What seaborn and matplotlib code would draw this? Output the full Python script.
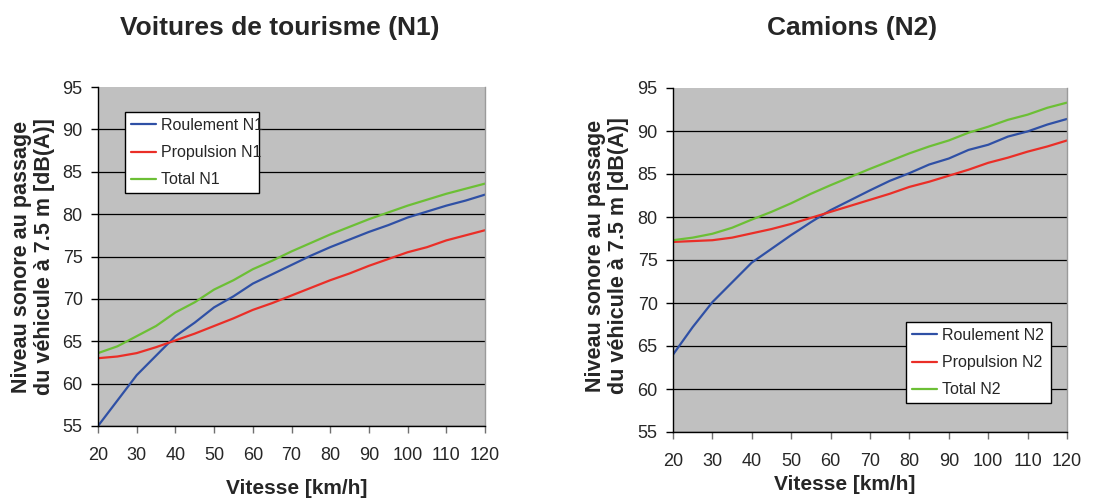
import matplotlib
matplotlib.use("Agg")
import matplotlib.pyplot as plt
import seaborn as sns
import pandas as pd

speed = [20, 25, 30, 35, 40, 45, 50, 55, 60, 65, 70, 75, 80, 85, 90, 95, 100, 105, 110, 115, 120]

roul_n1 = [55.0, 58.0, 61.0, 63.3, 65.6, 67.2, 69.0, 70.3, 71.8, 72.9, 74.0, 75.1, 76.1, 77.0, 77.9, 78.7, 79.6, 80.3, 81.0, 81.6, 82.3]
prop_n1 = [63.0, 63.2, 63.6, 64.3, 65.1, 65.9, 66.8, 67.7, 68.7, 69.5, 70.4, 71.3, 72.2, 73.0, 73.9, 74.7, 75.5, 76.1, 76.9, 77.5, 78.1]
tot_n1 = [63.6, 64.4, 65.6, 66.8, 68.4, 69.6, 71.1, 72.2, 73.5, 74.5, 75.6, 76.6, 77.6, 78.5, 79.4, 80.2, 81.0, 81.7, 82.4, 83.0, 83.6]

roul_n2 = [64.0, 67.2, 70.1, 72.4, 74.7, 76.3, 77.9, 79.4, 80.8, 81.95, 83.1, 84.2, 85.1, 86.1, 86.8, 87.8, 88.4, 89.35, 89.95, 90.75, 91.4]
prop_n2 = [77.1, 77.2, 77.3, 77.6, 78.1, 78.6, 79.2, 79.9, 80.6, 81.3, 82.0, 82.7, 83.5, 84.1, 84.8, 85.5, 86.3, 86.9, 87.6, 88.2, 88.9]
tot_n2 = [77.3, 77.6, 78.05, 78.75, 79.7, 80.6, 81.6, 82.7, 83.7, 84.65, 85.6, 86.5, 87.4, 88.2, 88.9, 89.8, 90.5, 91.3, 91.9, 92.7, 93.3]

titles = ["Voitures de tourisme (N1)", "Camions (N2)"]
labels_n1 = ["Roulement N1", "Propulsion N1", "Total N1"]
labels_n2 = ["Roulement N2", "Propulsion N2", "Total N2"]
xticks = [20, 30, 40, 50, 60, 70, 80, 90, 100, 110, 120]
yticks = [55, 60, 65, 70, 75, 80, 85, 90, 95]
ylabel = "Niveau sonore au passage\ndu véhicule à 7.5 m [dB(A)]"
xlabel = "Vitesse [km/h]"

colors = ["#2F50A5", "#EA2E27", "#6CBF35"]

sns.set_style("white")
plt.rcParams['font.family'] = ['Liberation Sans', 'DejaVu Sans']

fig = plt.figure(figsize=(11.02, 4.99), dpi=100)
ax1 = fig.add_axes([98/1102, 1 - 426/499, (485 - 98)/1102, (426 - 87)/499])
ax2 = fig.add_axes([673/1102, 1 - 432/499, (1067 - 673)/1102, (432 - 88)/499])

def build(labels, vals):
    rows = []
    for lab, v in zip(labels, vals):
        for s, y in zip(speed, v):
            rows.append({"speed": s, "level": y, "serie": lab})
    return pd.DataFrame(rows)

df1 = build(labels_n1, [roul_n1, prop_n1, tot_n1])
df2 = build(labels_n2, [roul_n2, prop_n2, tot_n2])

legend_boxes = [
    (125/1102, 1 - 193/499, (259 - 125)/1102, (193 - 111)/499),
    (906/1102, 1 - 403/499, (1051 - 906)/1102, (403 - 322)/499),
]

for ax, df, labels, box in [(ax1, df1, labels_n1, legend_boxes[0]), (ax2, df2, labels_n2, legend_boxes[1])]:
    ax.set_facecolor("#C0C0C0")
    sns.lineplot(data=df, x="speed", y="level", hue="serie", hue_order=labels,
                 palette=colors, linewidth=1.6, ax=ax, legend=True)
    ax.set_xlim(20, 120)
    ax.set_ylim(55, 95)
    ax.set_xticks(xticks)
    ax.set_yticks(yticks)
    ax.set_xlabel("")
    ax.set_ylabel("")
    ax.yaxis.grid(True, color="black", linewidth=0.9)
    ax.xaxis.grid(False)
    ax.set_axisbelow(True)
    ax.get_ygridlines()[-1].set_visible(False)
    for side in ["left", "bottom"]:
        ax.spines[side].set_color("black")
        ax.spines[side].set_linewidth(1.0)
    ax.spines["top"].set_visible(False)
    ax.spines["right"].set_color("#9A9A9A")
    ax.spines["right"].set_linewidth(1.0)
    ax.tick_params(axis="both", which="major", direction="out", length=5, width=1,
                   color="black", labelsize=13, pad=6, left=True, bottom=True)
    ax.tick_params(axis="x", pad=10, color="#707070")
    handles, labs = ax.get_legend_handles_labels()
    leg = ax.legend(handles, labs, loc="lower left",
                    bbox_to_anchor=box, bbox_transform=fig.transFigure,
                    mode="expand", frameon=True, fancybox=False, fontsize=11.5,
                    handlelength=1.6, handletextpad=0.3, borderaxespad=0,
                    labelspacing=0.77, borderpad=0.35)
    for h in leg.get_lines():
        h.set_linewidth(1.6)
    leg.get_frame().set_edgecolor("black")
    leg.get_frame().set_linewidth(1.0)
    leg.get_frame().set_facecolor("white")
    leg.get_frame().set_alpha(1)

fig.text(280/1102, 1 - 28/499, titles[0], ha="center", va="center", fontsize=19, fontweight="bold")
fig.text(852/1102, 1 - 28/499, titles[1], ha="center", va="center", fontsize=19, fontweight="bold")

fig.text(33/1102, 1 - 257/499, ylabel, ha="center", va="center", rotation=90,
         fontsize=15.5, fontweight="bold", multialignment="center", linespacing=1.1)
fig.text(607/1102, 1 - 256/499, ylabel, ha="center", va="center", rotation=90,
         fontsize=15.5, fontweight="bold", multialignment="center", linespacing=1.1)

fig.text(297/1102, 1 - 488/499, xlabel, ha="center", va="center", fontsize=15, fontweight="bold")
fig.text(845/1102, 1 - 485/499, xlabel, ha="center", va="center", fontsize=15, fontweight="bold")

fig.savefig("out.png", dpi=100, facecolor="white")
